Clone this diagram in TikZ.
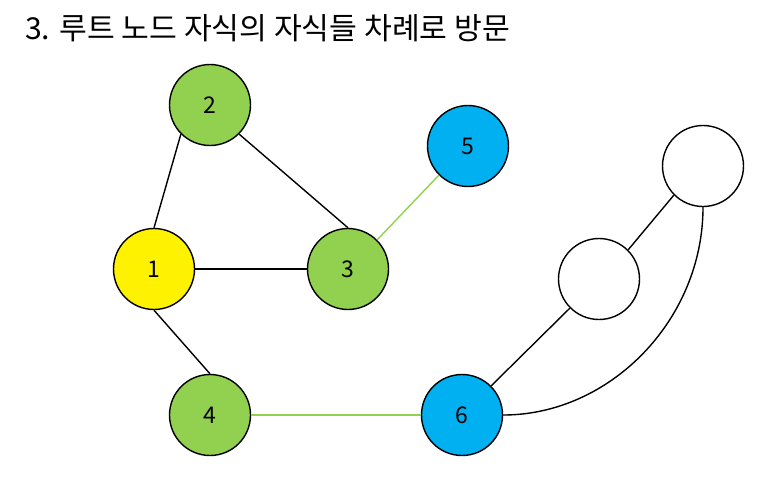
\documentclass[tikz,border=0pt]{standalone}
\usepackage{fontspec}
\newfontfamily\kr{Noto Sans CJK KR}
\setmainfont{Noto Sans CJK KR}
\definecolor{ngreen}{HTML}{92D050}
\definecolor{nblue}{HTML}{00B0F0}
\begin{document}
\begin{tikzpicture}[x=1pt,y=-1pt,
  vert/.style={circle,draw=black,line width=1.4pt,minimum size=81pt,inner sep=0pt,font=\fontsize{23}{26}\selectfont},
  edge/.style={line width=1.4pt,black},
  gedge/.style={line width=1.4pt,ngreen}]
\useasboundingbox (0,0) rectangle (770,496);
\node[anchor=west,inner sep=0pt,font=\fontsize{30.2}{33}\selectfont] (title) at (25,28) {3. 루트 노드 자식의 자식들 차례로 방문};
\node[vert,fill=ngreen] (n2) at (210,105) {2};
\node[vert,fill=nblue] (n5) at (468,146) {5};
\node[vert,fill=yellow] (n1) at (154,269) {1};
\node[vert,fill=ngreen] (n3) at (348,269) {3};
\node[vert,fill=ngreen] (n4) at (210,415) {4};
\node[vert,fill=nblue] (n6) at (462,415) {6};
\node[vert,fill=white] (a) at (599,279) {};
\node[vert,fill=white] (b) at (703,166) {};
\draw[edge] (n1.north) -- (n2.225);
\draw[edge] (n2.315) -- (n3.north);
\draw[edge] (n1.east) -- (n3.west);
\draw[edge] (n1.south) -- (n4.north);
\draw[gedge] (n3.45) -- (n5.225);
\draw[gedge] (n4.east) -- (n6.west);
\draw[edge] (n6.45) -- (a.225);
\draw[edge] (a.45) -- (b.225);
\draw[edge] (n6.east) .. controls (610,415) and (703,320) .. (b.south);
\end{tikzpicture}
\end{document}
